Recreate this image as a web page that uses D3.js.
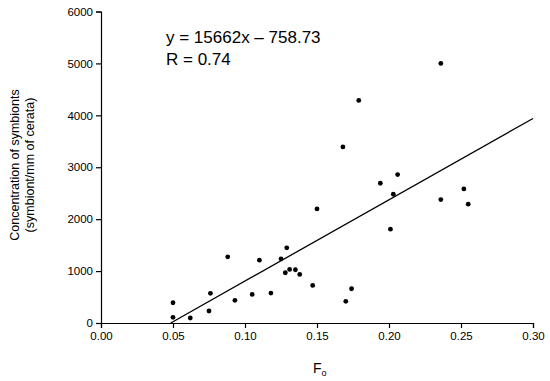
<!DOCTYPE html>
<html>
<head>
<meta charset="utf-8">
<script src="https://cdn.jsdelivr.net/npm/d3@7"></script>
<style>
  body { margin: 0; background: #fff; }
  text { font-family: "Liberation Sans", Arial, sans-serif; fill: #000; }
</style>
</head>
<body>
<div id="chart"></div>
<script>
// Fo values and symbiont concentrations
const foValues = [0.050, 0.050, 0.062, 0.075, 0.076, 0.088, 0.093, 0.105, 0.110, 0.118,
                  0.125, 0.128, 0.129, 0.131, 0.135, 0.138, 0.147, 0.150, 0.168, 0.170,
                  0.174, 0.179, 0.194, 0.201, 0.203, 0.206, 0.236, 0.236, 0.252, 0.255];
const concValues = [390, 110, 96, 231, 571, 1275, 436, 551, 1211, 577,
                    1237, 968, 1448, 1032, 1026, 936, 724, 2198, 3391, 417,
                    660, 4288, 2692, 1808, 2480, 2859, 2378, 5000, 2583, 2288];
const xTicks = [0, 0.05, 0.10, 0.15, 0.20, 0.25, 0.30];
const yTicks = [0, 1000, 2000, 3000, 4000, 5000, 6000];
const slope = 15662;
const intercept = -758.73;
const equationLines = ["y = 15662x \u2013 758.73", "R = 0.74"];

const width = 550;
const height = 381;
const margin = { left: 101, right: 17, top: 11.5, bottom: 58 };

const svg = d3.select("#chart").append("svg")
    .attr("width", width)
    .attr("height", height);

const x = d3.scaleLinear().domain([0, 0.30]).range([margin.left, width - margin.right]);
const y = d3.scaleLinear().domain([0, 6000]).range([height - margin.bottom, margin.top]);

// axes
const xAxis = svg.append("g")
    .attr("transform", `translate(0,${y(0)})`)
    .call(d3.axisBottom(x).tickValues(xTicks).tickFormat(d3.format(".2f")).tickSizeOuter(0).tickSize(5).tickPadding(4));
const yAxis = svg.append("g")
    .attr("transform", `translate(${x(0)},0)`)
    .call(d3.axisLeft(y).tickValues(yTicks).tickFormat(d3.format("d")).tickSizeOuter(0).tickSize(5).tickPadding(3));

[xAxis, yAxis].forEach(g => {
    g.select(".domain").attr("stroke", "#000").attr("stroke-width", 1.2);
    g.selectAll(".tick line").attr("stroke", "#000").attr("stroke-width", 1.2);
    g.selectAll(".tick text").attr("font-size", 11.5).attr("font-family", "Liberation Sans, Arial, sans-serif").attr("fill", "#000");
});

// regression line, from the x intercept to the end of the axis
const x0 = -intercept / slope;
svg.append("line")
    .attr("x1", x(x0)).attr("y1", y(slope * x0 + intercept))
    .attr("x2", x(0.30)).attr("y2", y(slope * 0.30 + intercept))
    .attr("stroke", "#000")
    .attr("stroke-width", 1.3);

// points
svg.selectAll(".dot")
    .data(foValues.map((f, i) => [f, concValues[i]]))
    .join("circle")
    .attr("class", "dot")
    .attr("cx", d => x(d[0]))
    .attr("cy", d => y(d[1]))
    .attr("r", 2.4)
    .attr("fill", "#000");

// equation
svg.selectAll(".eq")
    .data(equationLines)
    .join("text")
    .attr("class", "eq")
    .attr("x", 166)
    .attr("y", (d, i) => 43 + i * 22)
    .attr("font-size", 17)
    .text(d => d);

// y axis title
const yTitle = svg.append("text")
    .attr("transform", "translate(0,165) rotate(-90)")
    .attr("text-anchor", "middle")
    .attr("font-size", 12.5);
yTitle.append("tspan").attr("x", 0).attr("y", 19).text("Concentration of symbionts");
yTitle.append("tspan").attr("x", 0).attr("y", 34).text("(symbiont/mm of cerata)");

// x axis title F with subscript o
const xTitle = svg.append("text")
    .attr("x", 313)
    .attr("y", 373)
    .attr("font-size", 14);
xTitle.append("tspan").text("F");
xTitle.append("tspan").attr("font-size", 9).attr("dy", 3).text("o");
</script>
</body>
</html>
